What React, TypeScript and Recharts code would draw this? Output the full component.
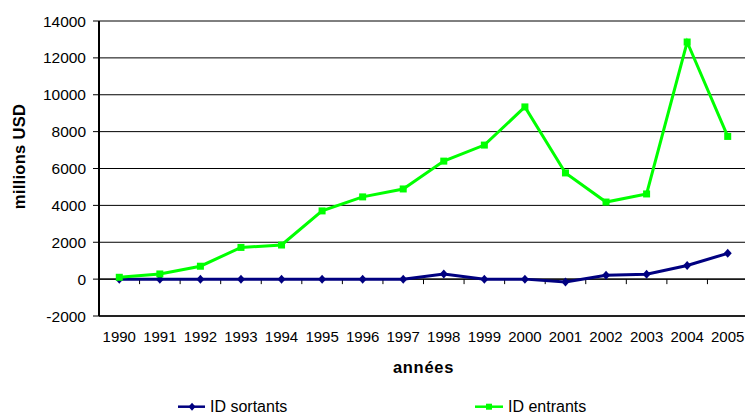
import React from 'react';
import { LineChart, Line, XAxis, YAxis, CartesianGrid, ReferenceLine, Legend } from 'recharts';

const years = ['1990', '1991', '1992', '1993', '1994', '1995', '1996', '1997', '1998', '1999', '2000', '2001', '2002', '2003', '2004', '2005'];
const idSortants = [0, 0, 0, 0, 0, 0, 0, 0, 280, 0, 0, -150, 210, 270, 740, 1400];
const idEntrants = [100, 280, 700, 1720, 1850, 3700, 4460, 4890, 6400, 7270, 9340, 5760, 4180, 4620, 12860, 7740];
const yTicks = [-2000, 0, 2000, 4000, 6000, 8000, 10000, 12000, 14000];
const seriesNames = ['ID sortants', 'ID entrants'];

const data = years.map((y, i) => ({ i, year: y, sortants: idSortants[i], entrants: idEntrants[i] }));
const xTicks = years.map((_, i) => i);

const FONT = '"Liberation Sans", Arial, sans-serif';
const NAVY = '#000080';
const GREEN = '#00FF00';

const SquareDot = (props: any) => {
  const { cx, cy, index } = props;
  if (cx == null || cy == null) return null;
  return <rect key={`s${index}`} x={cx - 3.5} y={cy - 3.5} width={7} height={7} fill={GREEN} />;
};

const DiamondDot = (props: any) => {
  const { cx, cy, index } = props;
  if (cx == null || cy == null) return null;
  return (
    <polygon
      key={`d${index}`}
      points={`${cx},${cy - 4.5} ${cx + 4},${cy} ${cx},${cy + 4.5} ${cx - 4},${cy}`}
      fill={NAVY}
    />
  );
};

const ZeroAxis = (props: any) => {
  const { x1, y1, x2, y2 } = props;
  if (x1 == null) return null;
  const n = years.length;
  const step = (x2 - x1) / n;
  return (
    <g>
      <line x1={x1} y1={y1} x2={x2} y2={y2} stroke="#000" strokeWidth={1.3} />
      {Array.from({ length: n - 1 }, (_, k) => (
        <line key={k} x1={x1 + (k + 1) * step} y1={y1} x2={x1 + (k + 1) * step} y2={y1 + 5} stroke="#000" strokeWidth={1} />
      ))}
    </g>
  );
};

const LegendContent = () => (
  <svg width={745} height={18} style={{ display: 'block' }}>
    <line x1={178} y1={8.7} x2={205} y2={8.7} stroke={NAVY} strokeWidth={2.5} />
    <polygon points="192,4.7 195.5,8.7 192,12.7 188.5,8.7" fill={NAVY} />
    <text x={210} y={14} fontFamily={FONT} fontSize={16} fill="#000">{seriesNames[0]}</text>
    <line x1={475} y1={8.7} x2={503} y2={8.7} stroke={GREEN} strokeWidth={2.5} />
    <rect x={486} y={5.7} width={6} height={6} fill={GREEN} />
    <text x={508} y={14} fontFamily={FONT} fontSize={16} fill="#000">{seriesNames[1]}</text>
  </svg>
);

export default function App() {
  return (
    <div style={{ position: 'absolute', left: 0, top: 0, width: 745, height: 414, overflow: 'hidden', background: '#fff' }}>
      <LineChart width={748} height={414} data={data} margin={{ top: 21, right: 0, bottom: 38, left: 0 }}>
        <CartesianGrid vertical={false} stroke="#000" strokeWidth={1} />
        <XAxis
          type="number"
          dataKey="i"
          domain={[-0.5, 15.5]}
          ticks={xTicks}
          interval={0}
          tickFormatter={(v: number) => years[v]}
          tickLine={false}
          tickSize={0}
          tickMargin={15}
          height={60}
          axisLine={{ stroke: '#222', strokeWidth: 2 }}
          tick={{ fontFamily: FONT, fontSize: 15, fill: '#000' }}
          label={(props: any) => {
            const vb = props.viewBox || {};
            return (
              <text x={vb.x + vb.width / 2} y={vb.y + 57} textAnchor="middle" fontFamily={FONT} fontSize={16.5} fontWeight="bold" letterSpacing={0.7} fill="#000">
                années
              </text>
            );
          }}
        />
        <YAxis
          type="number"
          domain={[-2000, 14000]}
          ticks={yTicks}
          interval={0}
          width={99}
          tickSize={6}
          tickMargin={7}
          axisLine={{ stroke: '#000', strokeWidth: 2 }}
          tickLine={{ stroke: '#000' }}
          tick={{ fontFamily: FONT, fontSize: 15.5, fill: '#000' }}
          label={() => {
            const x = 25;
            const y = 156.5;
            return (
              <text x={x} y={y} transform={`rotate(-90, ${x}, ${y})`} textAnchor="middle" fontFamily={FONT} fontSize={16.5} fontWeight="bold" letterSpacing={0.3} fill="#000">
                millions USD
              </text>
            );
          }}
        />
        <ReferenceLine y={0} shape={ZeroAxis} />
        <Line dataKey="sortants" name={seriesNames[0]} stroke={NAVY} strokeWidth={3} dot={DiamondDot} activeDot={false} isAnimationActive={false} />
        <Line dataKey="entrants" name={seriesNames[1]} stroke={GREEN} strokeWidth={3} dot={SquareDot} activeDot={false} isAnimationActive={false} />
        <Legend verticalAlign="middle" layout="horizontal" content={LegendContent} wrapperStyle={{ top: 398, left: 0, width: 745, height: 18 }} />
      </LineChart>
    </div>
  );
}
